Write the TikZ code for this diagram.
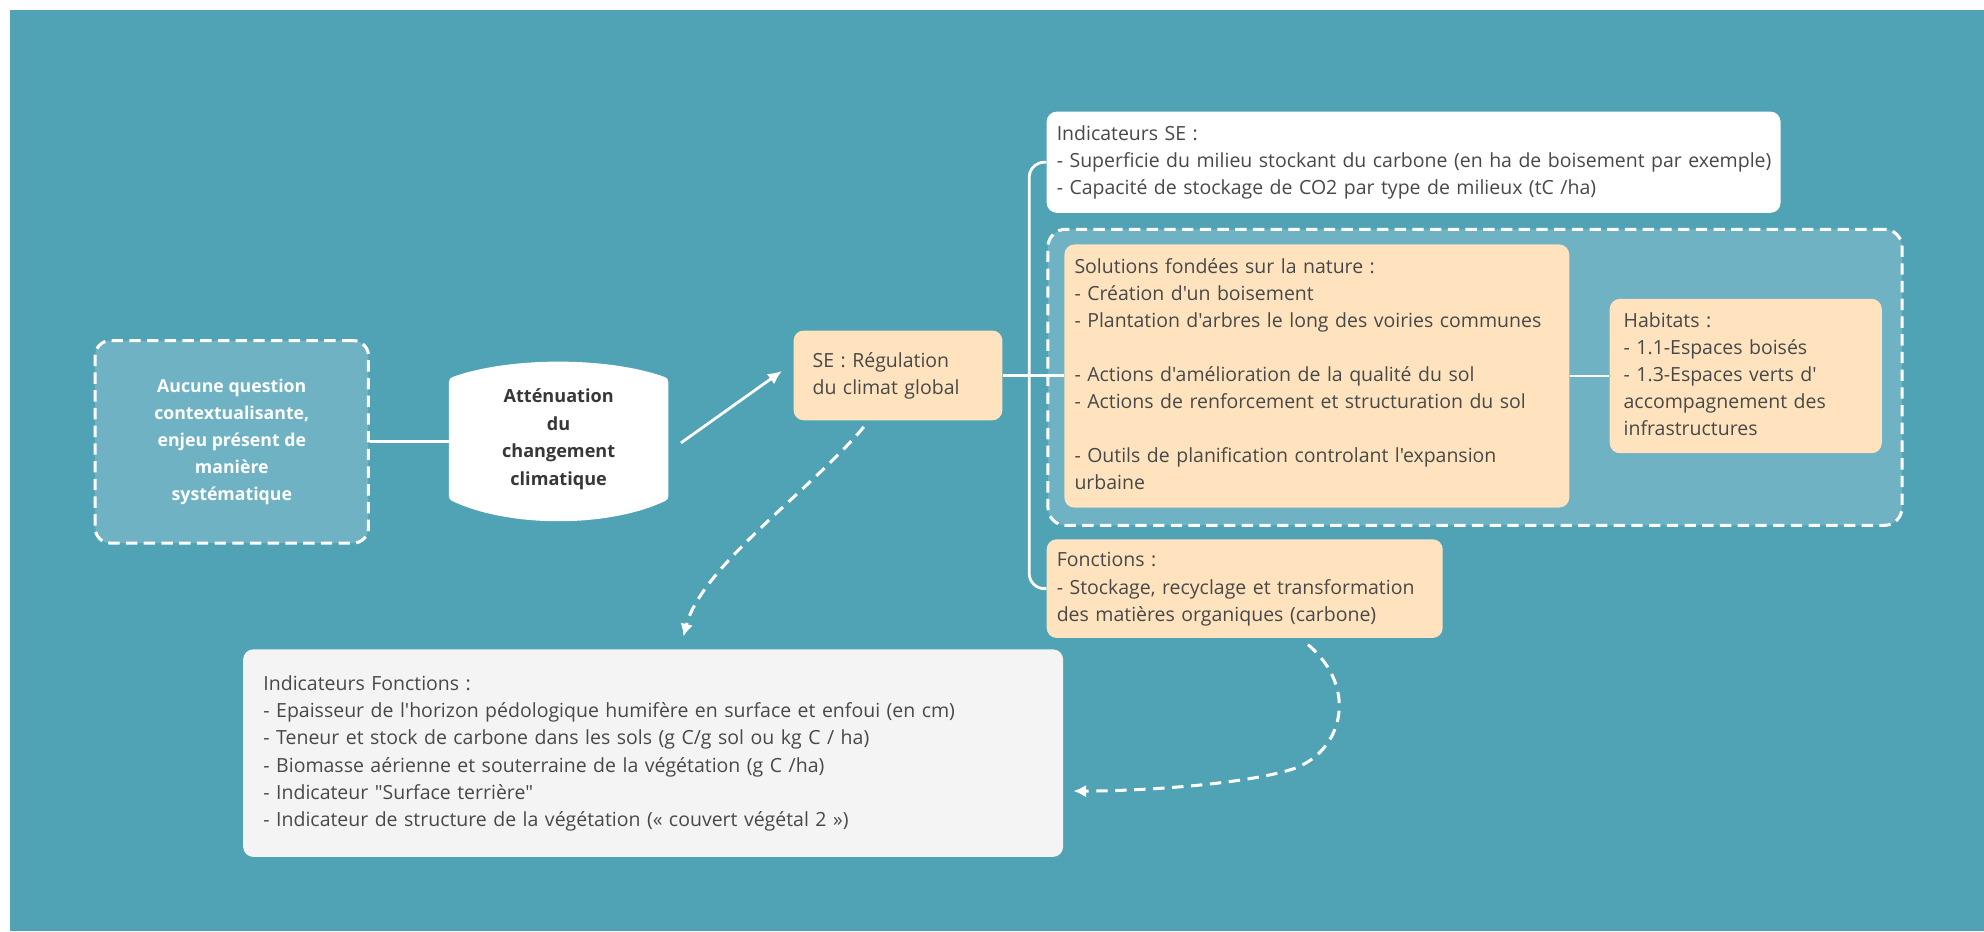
\documentclass[tikz,border=0pt]{standalone}
\usepackage{fontspec}
\setmainfont{Open Sans}[Ligatures=TeXOff]
\usetikzlibrary{arrows.meta,backgrounds}

\definecolor{bgteal}{RGB}{80,162,181}
\definecolor{paleteal}{RGB}{110,178,195}
\definecolor{peach}{RGB}{254,227,190}
\definecolor{ink}{RGB}{72,72,72}
\definecolor{inkdark}{RGB}{55,55,55}
\definecolor{mist}{RGB}{244,244,244}

% several left-aligned lines that never wrap
\newcommand{\boxlines}[1]{\noindent\begin{tabular}{@{}l@{}}#1\end{tabular}}

\tikzset{
  conn/.style={draw=white, line width=2.2pt},
  dashframe/.style={draw=white, line width=2.4pt, dash pattern=on 9pt off 5pt,
    rounded corners=12pt, fill=paleteal},
  card/.style={anchor=north west, rounded corners=8pt, inner ysep=0pt,
    text=ink, align=left, font=\fontsize{15.4}{21.4}\selectfont},
  peachcard/.style={card, fill=peach},
  whitecard/.style={card, fill=white},
  greycard/.style={card, fill=mist},
  dasharrow/.style={draw=white, line width=2.4pt, dash pattern=on 9pt off 6pt,
    -{Latex[length=10pt,width=10pt]}},
}

\begin{document}
\begin{tikzpicture}[x=1pt,y=-1pt]
\useasboundingbox (0,0) rectangle (1568,736);

% context box
\node[dashframe, anchor=north west, minimum width=216pt, minimum height=160pt,
      align=center, text=white, font=\bfseries\fontsize{14}{21.5}\selectfont]
  (auc) at (74,268) {Aucune question\\contextualisante,\\enjeu présent de\\manière\\systématique};

% stake (its outline is drawn on the background layer)
\node[minimum width=173pt, minimum height=98pt, align=center, text=inkdark,
      font=\bfseries\fontsize{14.3}{21.7}\selectfont]
  (att) at (441.5,347) {Atténuation\\du\\changement\\climatique};

% ecosystem service
\node[peachcard, minimum width=165pt, minimum height=71pt, inner xsep=15pt, text width=135pt]
  (se) at (627,261) {\boxlines{SE : Régulation\\du climat global}};

% indicators of the service
\node[whitecard, minimum width=580pt, minimum height=80pt, inner xsep=8pt, text width=564pt]
  (ise) at (827,88) {\boxlines{Indicateurs SE :\\
    - Superficie du milieu stockant du carbone (en ha de boisement par exemple)\\
    - Capacité de stockage de CO2 par type de milieux (tC /ha)}};

% group: nature-based solutions and habitats
\node[dashframe, rounded corners=14pt, anchor=north west, minimum width=675pt, minimum height=234pt]
  (cont) at (827,180) {};

\node[peachcard, minimum width=399pt, minimum height=208pt, inner xsep=8pt, text width=383pt]
  (sol) at (841,193) {\boxlines{Solutions fondées sur la nature :\\
    - Création d'un boisement\\
    - Plantation d'arbres le long des voiries communes\\
    \\
    - Actions d'amélioration de la qualité du sol\\
    - Actions de renforcement et structuration du sol\\
    \\
    - Outils de planification controlant l'expansion\\
    urbaine}};

\node[peachcard, minimum width=215pt, minimum height=122pt, inner xsep=11pt, text width=193pt]
  (hab) at (1272,236) {\boxlines{Habitats :\\
    - 1.1-Espaces boisés\\
    - 1.3-Espaces verts d'\\
    accompagnement des\\
    infrastructures}};

% functions
\node[peachcard, minimum width=313pt, minimum height=78pt, inner xsep=8pt, text width=297pt]
  (fon) at (827,426) {\boxlines{Fonctions :\\
    - Stockage, recyclage et transformation\\
    des matières organiques (carbone)}};

% indicators of the functions
\node[greycard, minimum width=648pt, minimum height=164pt, inner xsep=16pt, text width=616pt]
  (ifo) at (192,513) {\boxlines{Indicateurs Fonctions :\\
    - Epaisseur de l'horizon pédologique humifère en surface et enfoui (en cm)\\
    - Teneur et stock de carbone dans les sols (g C/g sol ou kg C / ha)\\
    - Biomasse aérienne et souterraine de la végétation (g C /ha)\\
    - Indicateur "Surface terrière"\\
    - Indicateur de structure de la végétation (« couvert végétal 2 »)}};

\begin{scope}[on background layer]
  \fill[white] (0,0) rectangle (1568,736);
  \fill[bgteal] (8,8) rectangle (1568,736);
  % barrel outline, inset and stroked thick so the corners come out round
  \filldraw[white, line width=8pt, line join=round]
    ([xshift=4pt,yshift=-4pt]att.north west) .. controls +(44,-16) and +(-44,-16) .. ([xshift=-4pt,yshift=-4pt]att.north east)
    -- ([xshift=-4pt,yshift=4pt]att.south east) .. controls +(-44,21) and +(44,21) .. ([xshift=4pt,yshift=4pt]att.south west) -- cycle;
\end{scope}

% connectors
\draw[conn] (auc.east) -- (auc.east -| att.west);
\draw[conn, -{Latex[length=11pt,width=10pt]}]
  ([xshift=10pt,yshift=-3pt]att.east) -- ([xshift=-9pt,yshift=3.5pt]se.west);
\draw[conn] (se.east) -- (se.east -| sol.west);
\coordinate (fork) at ([xshift=21pt]se.east);
\draw[conn, rounded corners=12pt] (fork) |- (ise.west);
\draw[conn, rounded corners=12pt] (fork) |- (fon.west);
\draw[conn] (sol.east) -- (sol.east -| hab.west);

\draw[dasharrow] ([xshift=-27pt,yshift=-5pt]se.south)
  .. controls +(-42,50) and +(14,-55) .. ([xshift=24pt,yshift=10pt]ifo.north);
\draw[dasharrow] ([xshift=50pt,yshift=-5pt]fon.south)
  .. controls +(42,36) and +(40,-12) .. ++(-14,99)
  .. controls +(-40,12) and +(50,0) .. ([xshift=8pt,yshift=-30pt]ifo.east);
\end{tikzpicture}
\end{document}
